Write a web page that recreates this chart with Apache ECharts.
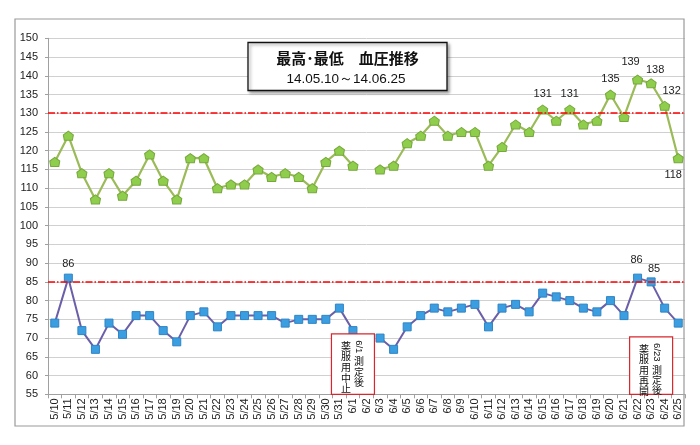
<!DOCTYPE html>
<html><head><meta charset="utf-8">
<script src="https://cdn.jsdelivr.net/npm/echarts@6/dist/echarts.min.js"></script>
<style>html,body{margin:0;padding:0;background:#fff}#c{width:700px;height:445px}</style>
</head><body><div id="c"></div>
<script>
// ---- data ----
const categories = ['5/10','5/11','5/12','5/13','5/14','5/15','5/16','5/17','5/18','5/19','5/20','5/21','5/22','5/23','5/24','5/25','5/26','5/27','5/28','5/29','5/30','5/31',
  '6/1','6/2','6/3','6/4','6/5','6/6','6/7','6/8','6/9','6/10','6/11','6/12','6/13','6/14','6/15','6/16','6/17','6/18','6/19','6/20','6/21','6/22','6/23','6/24','6/25'];
const systolic = [117,124,114,107,114,108,112,119,112,107,118,118,110,111,111,115,113,114,113,110,117,120,
  116,null,115,116,122,124,128,124,125,125,116,121,127,125,131,128,131,127,128,135,129,139,138,132,118];
const diastolic = [74,86,72,67,74,71,76,76,72,69,76,77,73,76,76,76,76,74,75,75,75,78,
  72,null,70,67,73,76,78,77,78,79,73,78,79,77,82,81,80,78,77,80,76,86,85,78,74];
const yMin = 55, yMax = 150, yStep = 5;
const refLines = [130, 85];
const systolicLabelDays = ['6/15','6/17','6/20','6/22','6/23','6/24','6/25'];
const diastolicLabelDays = ['5/11','6/22','6/23'];
const titleLine1 = '最高･最低　血圧推移';
const titleLine2 = '14.05.10～14.06.25';
const noteDays = ['6/1','6/23'];
const noteDates = ['6/1','6/23'];
const noteAfter = ['測定後','測定後'];
const noteMain = ['薬服用中止','薬服用再開'];
const noteTopValue = [71.1, 70.3];

// ---- styling (not data) ----
const labelOffsets = {
  sys: {'6/15':[0,-1],'6/17':[0,-1],'6/20':[0,-1],'6/22':[-7,-3],'6/23':[4,1],'6/24':[7,0],'6/25':[-5,'bottom']},
  dia: {'5/11':[0,0],'6/22':[-1,-4],'6/23':[3,1]}
};
const JP = '"Noto Sans CJK JP","Noto Sans",sans-serif';
const LAT = '"Liberation Sans","DejaVu Sans",sans-serif';

function buildSeriesData(vals, days, offs){
  return vals.map((v,i)=>{
    const d = categories[i];
    if (v === null) return '-';
    if (days.indexOf(d) >= 0){
      const o = offs[d];
      const bottom = o[1] === 'bottom';
      return {value: v, label: {show: true, position: bottom ? 'bottom' : 'top', offset: [o[0], bottom ? 2 : o[1]],
        fontSize: 11, color: '#222', fontFamily: LAT, distance: 4}};
    }
    return v;
  });
}

const chart = echarts.init(document.getElementById('c'), null, {renderer: 'canvas'});
const option = {
  animation: false,
  backgroundColor: '#fff',
  grid: {left: 48, right: 15, top: 38.3, bottom: 50.7, containLabel: false},
  xAxis: {
    type: 'category', data: categories, boundaryGap: true,
    axisLine: {lineStyle: {color: '#a0a0a0', width: 1}},
    axisTick: {show: true, length: 4, lineStyle: {color: '#a0a0a0'}},
    axisLabel: {rotate: 90, fontSize: 11, color: '#222', fontFamily: LAT, margin: 4, interval: 0}
  },
  yAxis: {
    type: 'value', min: yMin, max: yMax, interval: yStep,
    axisLine: {show: true, lineStyle: {color: '#a0a0a0'}},
    axisTick: {show: true, length: 3, lineStyle: {color: '#a0a0a0'}},
    axisLabel: {fontSize: 11, color: '#222', fontFamily: LAT, margin: 10},
    splitLine: {lineStyle: {color: '#d0d0d0', width: 1}}
  },
  series: [
    {
      name: '最高', type: 'line', data: buildSeriesData(systolic, systolicLabelDays, labelOffsets.sys),
      connectNulls: false,
      symbol: 'path://M5,0L10,4L9,10L1,10L0,4Z', symbolSize: [10,9],
      itemStyle: {color: '#8fce4c', borderColor: '#76a83a', borderWidth: 1},
      lineStyle: {color: '#9bbb59', width: 2.2},
      z: 3,
      markLine: {
        silent: true, symbol: 'none', label: {show: false},
        lineStyle: {color: '#ff0000', type: [7,2,1.5,2], width: 1.5},
        data: refLines.map(v => ({yAxis: v}))
      }
    },
    {
      name: '最低', type: 'line', data: buildSeriesData(diastolic, diastolicLabelDays, labelOffsets.dia),
      connectNulls: false,
      symbol: 'rect', symbolSize: 8,
      itemStyle: {color: '#3a9ee0', borderColor: '#2f84c4', borderWidth: 1},
      lineStyle: {color: '#6a5fa8', width: 2},
      z: 3
    }
  ]
};
chart.setOption(option);

const graphics = [
  {type: 'rect', shape: {x: 15, y: 19, width: 669, height: 407}, style: {fill: 'none', stroke: '#9a9a9a', lineWidth: 1.2}, z: 0, silent: true},
  {type: 'rect', shape: {x: 248, y: 42.5, width: 199, height: 48}, style: {fill: '#fff', stroke: '#111', lineWidth: 1.3, shadowBlur: 3, shadowOffsetX: 2, shadowOffsetY: 2, shadowColor: 'rgba(0,0,0,0.35)'}, z: 10},
  {type: 'text', x: 347.5, y: 58, style: {text: titleLine1, font: 'bold 15px ' + JP, fill: '#111', align: 'center', verticalAlign: 'middle'}, z: 11},
  {type: 'text', x: 346, y: 79, style: {text: titleLine2, font: '13.5px ' + LAT, fill: '#111', align: 'center', verticalAlign: 'middle'}, z: 11}
];

function pushColumn(chars, x, y0, step){
  chars.split('').forEach((ch, k) => {
    graphics.push({type: 'text', x: x, y: y0 + k*step, style: {text: ch, font: '10px ' + JP, fill: '#111', align: 'center', verticalAlign: 'middle'}, z: 11});
  });
}

noteDays.forEach((d, i) => {
  const cx = chart.convertToPixel({xAxisIndex: 0}, d);
  const top = chart.convertToPixel({yAxisIndex: 0}, noteTopValue[i]);
  const bottom = chart.convertToPixel({yAxisIndex: 0}, yMin);
  const w = 43;
  graphics.push({type: 'rect', shape: {x: cx - w/2, y: top, width: w, height: bottom - top}, style: {fill: '#fff', stroke: '#d9262c', lineWidth: 1.2}, z: 10});
  // left column (main text)
  pushColumn(noteMain[i], cx - 7, top + 12, 10.6);
  // right column: rotated date then chars
  const dateLen = noteDates[i].length * 5.2;
  graphics.push({type: 'text', x: cx + 6, y: top + 5 + dateLen/2, rotation: -Math.PI/2, style: {text: noteDates[i], font: '9.5px ' + LAT, fill: '#111', align: 'center', verticalAlign: 'middle'}, z: 11});
  pushColumn(noteAfter[i], cx + 6, top + 12 + dateLen, 10.3);
});

chart.setOption({graphic: graphics});
</script></body></html>
